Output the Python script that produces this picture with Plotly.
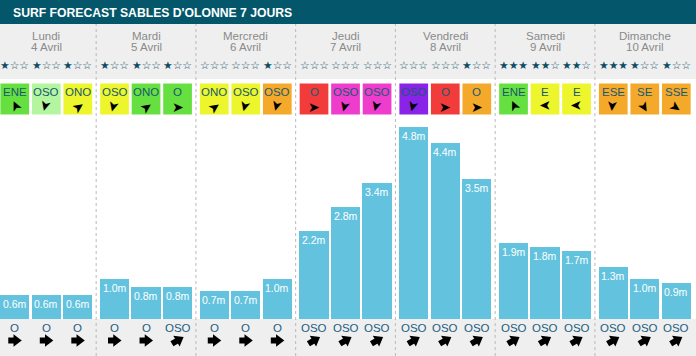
import math
import plotly.graph_objects as go

# ---------------- data ----------------
days = ["Lundi", "Mardi", "Mercredi", "Jeudi", "Vendredi", "Samedi", "Dimanche"]
dates = ["4 Avril", "5 Avril", "6 Avril", "7 Avril", "8 Avril", "9 Avril", "10 Avril"]
stars = [[1, 1, 1], [1, 1, 1], [0, 0, 1], [0, 0, 0], [0, 0, 1], [3, 2, 2], [3, 1, 1]]
wind_dir = [["ENE", "OSO", "ONO"], ["OSO", "ONO", "O"], ["ONO", "OSO", "OSO"],
            ["O", "OSO", "OSO"], ["OSO", "O", "O"], ["ENE", "E", "E"], ["ESE", "SE", "SSE"]]
wind_level = [["g", "lg", "y"], ["y", "g", "g"], ["y", "y", "o"],
              ["r", "m", "m"], ["p", "r", "o"], ["g", "y", "y"], ["o", "o", "o"]]
heights = [[0.6, 0.6, 0.6], [1.0, 0.8, 0.8], [0.7, 0.7, 1.0], [2.2, 2.8, 3.4],
           [4.8, 4.4, 3.5], [1.9, 1.8, 1.7], [1.3, 1.0, 0.9]]
swell_dir = [["O", "O", "O"], ["O", "O", "OSO"], ["O", "O", "O"], ["OSO", "OSO", "OSO"],
             ["OSO", "OSO", "OSO"], ["OSO", "OSO", "OSO"], ["OSO", "OSO", "OSO"]]
title = "SURF FORECAST SABLES D'OLONNE 7 JOURS"

# ---------------- styles ----------------
LEVEL_COLOR = {"g": "#66e040", "lg": "#b4f5a0", "y": "#edf52c", "o": "#f5a92b",
               "r": "#f23b3b", "m": "#ee3dcd", "p": "#8923e8"}
WIND_ANGLE = {"ENE": 335, "OSO": 195, "ONO": 55, "O": 90, "E": 270,
              "ESE": 185, "SE": 150, "SSE": 125}
SWELL_ANGLE = {"O": 90, "OSO": 60}
W, H = 696, 356
BASE_PX, PX_PER_M = 319, 40
PX_PER_DAY = 99.75
FONT = "Liberation Sans, Arial, sans-serif"

def py(p):  # pixel row -> paper y
    return 1 - p / H

def ydata(p):  # pixel row -> data y
    return (BASE_PX - p) / PX_PER_M

def note(text, x, y, size, color, family=FONT, xref="x", yref="paper", **kw):
    d = dict(text=text, xref=xref, yref=yref, x=x, y=y, xanchor="center", yanchor="middle",
             showarrow=False, font=dict(family=family, size=size, color=color))
    d.update(kw)
    return d

xs, ys, labels = [], [], []
for d in range(7):
    for k in range(3):
        xs.append(d + (k - 1) * 0.316)
        ys.append(heights[d][k])
        labels.append(f"{heights[d][k]:.1f}m")

fig = go.Figure()
fig.add_trace(go.Bar(x=xs, y=ys, width=0.292, marker=dict(color="#63c3de", line=dict(width=0)),
                     hoverinfo="skip"))

shapes = []
shapes.append(dict(type="rect", xref="paper", yref="paper", x0=0, x1=1, y0=py(24), y1=py(0),
                   fillcolor="#04576b", line=dict(width=0), layer="below"))
shapes.append(dict(type="rect", xref="paper", yref="paper", x0=0, x1=1, y0=py(79), y1=py(24),
                   fillcolor="#efefef", line=dict(width=0), layer="below"))
shapes.append(dict(type="rect", xref="paper", yref="paper", x0=0, x1=1, y0=0, y1=py(BASE_PX),
                   fillcolor="#efefef", line=dict(width=0), layer="below"))
for d in range(6):
    shapes.append(dict(type="line", xref="x", yref="paper", x0=d + 0.5, x1=d + 0.5,
                       y0=0, y1=py(24), line=dict(color="#b9b9b9", width=1, dash="3px,3px"),
                       layer="below"))

annotations = []
annotations.append(note(f"<b>{title}</b>", 11 / W, py(12.5), 12.2, "white", xref="paper",
                        xanchor="left"))
hx, hy, hang = [], [], []
tx, ty, tang = [], [], []
for d in range(7):
    annotations.append(note(days[d], d, py(35.5), 11.5, "#8a8a8a"))
    annotations.append(note(dates[d], d, py(47.5), 11.5, "#8a8a8a"))
    for k in range(3):
        xc = d + (k - 1) * 0.316
        n = stars[d][k]
        annotations.append(note("★" * n + "☆" * (3 - n), xc, py(65.5), 10.8, "#0c4c65",
                                family="DejaVu Sans"))
        shapes.append(dict(type="rect", xref="x", yref="paper", x0=xc - 0.144, x1=xc + 0.144,
                           y0=py(114.5), y1=py(83.5), fillcolor=LEVEL_COLOR[wind_level[d][k]],
                           line=dict(width=0), layer="below"))
        annotations.append(note(wind_dir[d][k], xc, py(92), 11.5, "#17596f"))
        annotations.append(note("➤", xc, py(106.5), 14, "black", family="DejaVu Sans",
                                textangle=WIND_ANGLE[wind_dir[d][k]] - 90))
        annotations.append(note(labels[d * 3 + k], xc, heights[d][k], 10.5, "white",
                                yref="y", yshift=-9))
        annotations.append(note(swell_dir[d][k], xc, py(327.5), 11.5, "#1b5d7e"))
        # swell block arrow: triangle head + square tail, oriented along the swell angle
        a = math.radians(SWELL_ANGLE[swell_dir[d][k]])
        ux, uy = math.sin(a), math.cos(a)
        cy = ydata(340.5)
        hx.append(xc + 1.5 * ux / PX_PER_DAY)
        hy.append(cy + 1.5 * uy / PX_PER_M)
        hang.append(SWELL_ANGLE[swell_dir[d][k]])
        tx.append(xc - 3.5 * ux / PX_PER_DAY)
        ty.append(cy - 3.5 * uy / PX_PER_M)
        tang.append(SWELL_ANGLE[swell_dir[d][k]])

fig.add_trace(go.Scatter(x=tx, y=ty, mode="markers", hoverinfo="skip",
                         marker=dict(symbol="square", size=6, angle=tang, color="black",
                                     line=dict(width=0))))
fig.add_trace(go.Scatter(x=hx, y=hy, mode="markers", hoverinfo="skip",
                         marker=dict(symbol="triangle-up", size=11, angle=hang, color="black",
                                     line=dict(width=0))))

fig.update_layout(
    width=W, height=H, margin=dict(l=0, r=0, t=0, b=0),
    paper_bgcolor="white", plot_bgcolor="rgba(0,0,0,0)", showlegend=False,
    xaxis=dict(range=[-0.464, -0.464 + W / PX_PER_DAY], visible=False, fixedrange=True),
    yaxis=dict(range=[ydata(H), ydata(0)], visible=False, fixedrange=True),
    shapes=shapes, annotations=annotations, bargap=0,
)
fig.write_html("out.html", config={"displayModeBar": False},
               post_script="document.body.style.margin='0';document.body.style.overflow='hidden';")
